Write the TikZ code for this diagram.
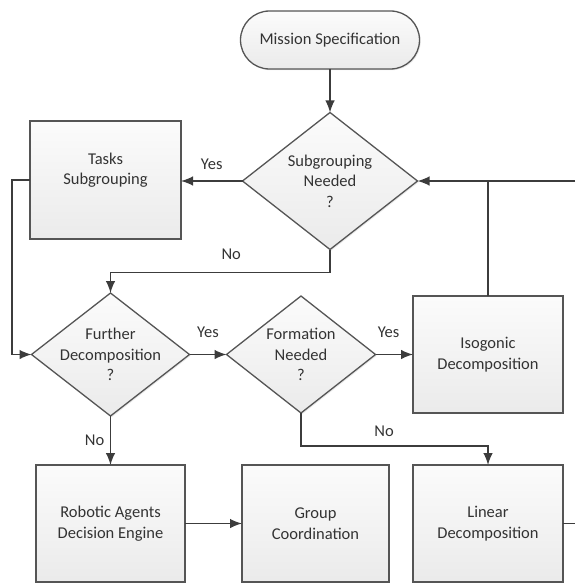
\documentclass[tikz,border=0pt]{standalone}
\usepackage{fontspec}
\setmainfont{Carlito}
\usetikzlibrary{arrows.meta,shapes.geometric,shadows}
\definecolor{linegray}{HTML}{3C3C3C}
\definecolor{edgegray}{HTML}{555555}
\definecolor{textgray}{HTML}{333333}
\tikzset{> = {Latex[length=12pt,width=9.5pt]},
	block/.style={draw=edgegray, line width=1.3pt, top color=gray!3, bottom color=gray!16,
		text=textgray, align=center, inner sep=0pt, outer sep=0pt,
		drop shadow={shadow xshift=1.2pt, shadow yshift=-1.2pt, opacity=0.18}},
	box/.style={block, rectangle, minimum width=150pt, minimum height=117pt},
	decision/.style={block, diamond},
	terminal/.style={block, rectangle, rounded corners=29pt, minimum width=179pt, minimum height=58pt},
	flow/.style={draw=linegray, line width=1.4pt, ->},
	lbl/.style={text=textgray, inner sep=2pt}}

\begin{document}
\begin{tikzpicture}[x=1pt, y=-1pt, font=\fontsize{16.5}{20.5}\selectfont]
		\useasboundingbox (0,0) rectangle (575,583);
		\node[terminal] (mission) at (330,40) {Mission Specification};
		\node[decision, minimum width=175pt, minimum height=137pt,
			label={[text=textgray, align=center]center:Subgrouping\\Needed\\?}] (subq) at (330,181) {};
		\node[box, minimum width=151pt, minimum height=118pt,
			label={[text=textgray, align=center, yshift=10pt]center:Tasks\\Subgrouping}] (tasks) at (105.5,180) {};
		\node[decision, minimum width=158pt, minimum height=123pt,
			label={[text=textgray, align=center]center:Further\\Decomposition\\?}] (furtherq) at (110.5,354.5) {};
		\node[decision, minimum width=149pt, minimum height=117pt,
			label={[text=textgray, align=center]center:Formation\\Needed\\?}] (formq) at (301,354.5) {};
		\node[box] (isogonic) at (488,354.5) {Isogonic\\Decomposition};
		\node[box, minimum width=149pt] (agents) at (110.5,523.5) {Robotic Agents\\Decision Engine};
		\node[box, minimum width=147pt] (group) at (315.5,523.5) {Group\\Coordination};
		\node[box] (linear) at (488,523.5) {Linear\\Decomposition};
		\coordinate (loopin) at (575,181);
		\coordinate (loopout) at (575,523.5);

		\draw[flow] (mission) -- (subq);
		\draw[flow] (subq.west) -- node[lbl, above=9pt]{Yes} (subq.west -| tasks.east);
		\draw[flow] (subq.south) -- ++(0,23) -| node[lbl, pos=.225, above=10pt]{No} (furtherq.north);
		\draw[flow] (tasks.west) -- ++(-18,0) |- (furtherq.west);
		\draw[flow] (loopin) -- (subq.east);
		\draw[flow, -] (isogonic.north) -- (isogonic.north |- subq.east);
		\draw[flow] (furtherq.east) -- node[lbl, above=14pt]{Yes} (formq.west);
		\draw[flow] (formq.east) -- node[lbl, pos=.35, above=14pt]{Yes} (isogonic.west);
		\draw[flow] (furtherq.south) -- node[lbl, left=3.5pt]{No} (agents.north);
		\draw[flow] (formq.south) -- ++(0,33) -| node[lbl, pos=.222, above=7pt]{No} (linear.north);
		\draw[flow] (agents) -- (group);
		\draw[flow, -] (linear.east) -- (loopout);
\end{tikzpicture}
\end{document}
